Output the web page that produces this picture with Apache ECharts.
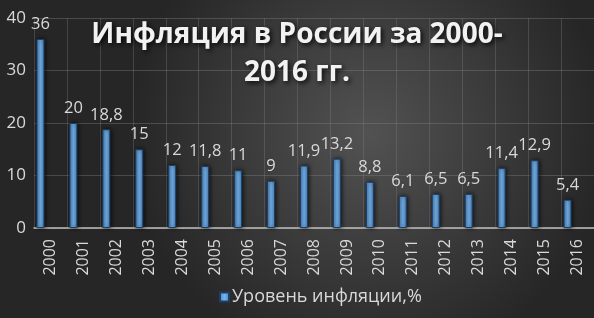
<!DOCTYPE html>
<html>
<head>
<meta charset="utf-8">
<script src="https://cdn.jsdelivr.net/npm/echarts@6/dist/echarts.min.js"></script>
<style>
html,body{margin:0;padding:0;background:#333;}
#c{width:594px;height:318px;}
</style>
</head>
<body>
<div id="c"></div>
<script>
const years = ['2000','2001','2002','2003','2004','2005','2006','2007','2008','2009','2010','2011','2012','2013','2014','2015','2016'];
const inflation = [36, 20, 18.8, 15, 12, 11.8, 11, 9, 11.9, 13.2, 8.8, 6.1, 6.5, 6.5, 11.4, 12.9, 5.4];
const yTicks = [0, 10, 20, 30, 40];
const seriesName = 'Уровень инфляции,%';
const titleText = 'Инфляция в России за 2000-\n2016 гг.';

const chart = echarts.init(document.getElementById('c'), null, {renderer: 'canvas'});
const font = '"Open Sans", "Noto Sans", sans-serif';
const txt = '#d9d9d9';
chart.setOption({
  animation: false,
  backgroundColor: {
    type: 'radial', x: 0.62, y: 0.42, r: 0.75,
    colorStops: [{offset: 0, color: '#525252'}, {offset: 1, color: '#262626'}]
  },
  title: {
    text: titleText,
    left: 'center',
    top: 11,
    textStyle: {
      fontFamily: font, fontSize: 28, fontWeight: 'bold', color: '#f2f2f2',
      lineHeight: 38,
      textShadowColor: 'rgba(0,0,0,0.85)', textShadowBlur: 5,
      textShadowOffsetX: 2, textShadowOffsetY: 2
    }
  },
  legend: {
    data: [seriesName],
    left: 214, top: 283,
    icon: 'rect', itemWidth: 9, itemHeight: 9, itemGap: 4,
    textStyle: {fontFamily: font, fontSize: 18, color: txt, padding: [0,0,0,-2]}
  },
  grid: {left: 34, right: 0, top: 18, bottom: 90, containLabel: false},
  xAxis: {
    type: 'category', data: years, boundaryGap: true,
    axisLine: {show: true, lineStyle: {color: '#bfbfbf', width: 1.5}},
    axisTick: {show: false},
    splitLine: {show: true, lineStyle: {color: 'rgba(130,130,130,0.35)', width: 1}},
    axisLabel: {rotate: 90, margin: 11, fontFamily: font, fontSize: 16, color: txt, interval: 0}
  },
  yAxis: {
    type: 'value', min: yTicks[0], max: yTicks[yTicks.length-1], interval: 10,
    axisLine: {show: false}, axisTick: {show: false},
    splitLine: {lineStyle: {color: 'rgba(130,130,130,0.4)', width: 1}},
    axisLabel: {margin: 8, fontFamily: font, fontSize: 17, color: txt}
  },
  series: [
    {
      name: seriesName, type: 'bar', data: inflation,
      barWidth: 8, barGap: '150%',
      itemStyle: {
        color: {type: 'linear', x: 0, y: 0, x2: 1, y2: 0, colorStops: [
          {offset: 0, color: '#4585c4'}, {offset: 0.5, color: '#79b2e8'}, {offset: 1, color: '#4585c4'}]},
        borderColor: '#1d3f66', borderWidth: 1,
        shadowColor: 'rgba(0,0,0,0.7)', shadowBlur: 4, shadowOffsetX: 1
      },
      label: {
        show: true, position: 'top', distance: 6,
        fontFamily: font, fontSize: 16.5, color: txt,
        formatter: p => String(p.value).replace('.', ',')
      }
    },
    {
      name: '_', type: 'bar', data: years.map(() => null),
      barWidth: 8, silent: true, label: {show: false}
    }
  ]
});
</script>
</body>
</html>
